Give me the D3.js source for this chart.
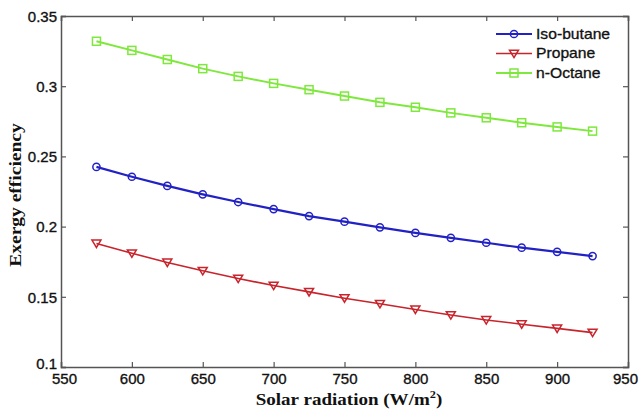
<!DOCTYPE html>
<html>
<head>
<meta charset="utf-8">
<script src="https://cdn.jsdelivr.net/npm/d3@7"></script>
<style>
  body { margin: 0; background: #fff; }
  .tick text { font-family: "Liberation Sans", Arial, sans-serif; font-size: 15px; fill: #111; stroke: #111; stroke-width: 0.35px; }
</style>
</head>
<body>
<div id="chart"></div>
<script>
// data
let radiation = [575, 600, 625, 650, 675, 700, 725, 750, 775, 800, 825, 850, 875, 900, 925];
let isoButane = [0.2425, 0.2355, 0.229, 0.223, 0.2175, 0.2125, 0.2075, 0.2035, 0.1995, 0.1955, 0.192, 0.1885, 0.185, 0.182, 0.179];
let propane = [0.188, 0.181, 0.1745, 0.1685, 0.163, 0.158, 0.1535, 0.149, 0.145, 0.141, 0.137, 0.1335, 0.1305, 0.1275, 0.1245];
let nOctane = [0.332, 0.3255, 0.319, 0.3125, 0.307, 0.302, 0.2975, 0.293, 0.2885, 0.285, 0.281, 0.2775, 0.274, 0.271, 0.268];
let xTicks = [550, 600, 650, 700, 750, 800, 850, 900, 950];
let yTicks = [0.1, 0.15, 0.2, 0.25, 0.3, 0.35];
let seriesNames = ["Iso-butane", "Propane", "n-Octane"];

let series = [
  { name: seriesNames[0], values: isoButane, color: "#2222c4", marker: "circle", lw: 2.2 },
  { name: seriesNames[1], values: propane, color: "#c8242c", marker: "triangle", lw: 1.6 },
  { name: seriesNames[2], values: nOctane, color: "#7ee83c", marker: "square", lw: 2 }
];

let width = 639, height = 415;
let margin = { left: 61, right: 11, top: 16, bottom: 48 };

let svg = d3.select("#chart").append("svg")
  .attr("width", width)
  .attr("height", height);

let x = d3.scaleLinear().domain([550, 950]).range([margin.left, width - margin.right]);
let y = d3.scaleLinear().domain([0.1, 0.35]).range([height - margin.bottom, margin.top]);

let axisColor = "#555";

// axes with inward ticks, MATLAB style box
let xAxis = svg.append("g")
  .attr("transform", "translate(0," + y(0.1) + ")")
  .call(d3.axisBottom(x).tickValues(xTicks).tickSize(-5).tickPadding(6).tickFormat(d3.format("d")));
let xAxisTop = svg.append("g")
  .attr("transform", "translate(0," + y(0.35) + ")")
  .call(d3.axisTop(x).tickValues(xTicks).tickSize(-5).tickFormat(""));
let yAxis = svg.append("g")
  .attr("transform", "translate(" + x(550) + ",0)")
  .call(d3.axisLeft(y).tickValues(yTicks).tickSize(-5).tickPadding(4).tickFormat(d => String(+d.toFixed(2))));
let yAxisRight = svg.append("g")
  .attr("transform", "translate(" + x(950) + ",0)")
  .call(d3.axisRight(y).tickValues(yTicks).tickSize(-5).tickFormat(""));

[xAxis, xAxisTop, yAxis, yAxisRight].forEach(function(a) {
  a.select(".domain").attr("stroke", axisColor).attr("stroke-width", 1.5);
  a.selectAll(".tick line").attr("stroke", axisColor).attr("stroke-width", 1.2);
});
xAxis.selectAll(".tick text").attr("dy", "0.75em");
yAxis.selectAll(".tick text").attr("dy", "0.35em");

// shift end labels like in the figure (and keep 950 inside the page)
xAxis.selectAll(".tick text").filter(d => d == 550).attr("dx", 3);
xAxis.selectAll(".tick text").filter(d => d == 950).attr("dx", -3);
yAxis.selectAll(".tick text").filter(d => d == 0.1).attr("dy", "0.1em");

function drawMarker(g, type, cx, cy, color) {
  if (type == "circle") {
    g.append("circle").attr("cx", cx).attr("cy", cy).attr("r", 3.6)
      .attr("fill", "none").attr("stroke", color).attr("stroke-width", 1.5);
  } else if (type == "triangle") {
    let s = 4.5;
    g.append("path")
      .attr("d", "M" + (cx - s) + "," + (cy - s * 0.75) + "L" + (cx + s) + "," + (cy - s * 0.75) + "L" + cx + "," + (cy + s * 0.9) + "Z")
      .attr("fill", "none").attr("stroke", color).attr("stroke-width", 1.5);
  } else {
    g.append("rect").attr("x", cx - 4).attr("y", cy - 4).attr("width", 8).attr("height", 8)
      .attr("fill", "none").attr("stroke", color).attr("stroke-width", 1.5);
  }
}

let line = d3.line()
  .x(function(d, i) { return x(radiation[i]); })
  .y(function(d) { return y(d); });

series.forEach(function(s) {
  let g = svg.append("g");
  g.append("path")
    .datum(s.values)
    .attr("d", line)
    .attr("fill", "none")
    .attr("stroke", s.color)
    .attr("stroke-width", s.lw);
  s.values.forEach(function(v, i) {
    drawMarker(g, s.marker, x(radiation[i]), y(v), s.color);
  });
});

// legend
let legend = svg.append("g");
series.forEach(function(s, i) {
  let ly = 34 + i * 19.5;
  legend.append("line")
    .attr("x1", 496).attr("x2", 532).attr("y1", ly).attr("y2", ly)
    .attr("stroke", s.color).attr("stroke-width", s.lw);
  drawMarker(legend, s.marker, 514, ly, s.color);
  legend.append("text")
    .attr("transform", "translate(536," + ly + ") scale(1.12,1)")
    .attr("dy", "0.35em")
    .attr("font-family", "Liberation Sans, Arial, sans-serif")
    .attr("font-size", 14)
    .attr("fill", "#111")
    .attr("stroke", "#111")
    .attr("stroke-width", 0.3)
    .text(s.name);
});

// axis titles
svg.append("text")
  .attr("transform", "translate(349,405) scale(1.12,1)")
  .attr("text-anchor", "middle")
  .attr("font-family", "Liberation Serif, Times New Roman, serif")
  .attr("font-weight", "bold")
  .attr("font-size", 17)
  .attr("fill", "#111")
  .html("Solar radiation (W/m<tspan dy='-7' font-size='11'>2</tspan><tspan dy='7'>)</tspan>");

svg.append("text")
  .attr("transform", "translate(21,195) rotate(-90) scale(1.22,1)")
  .attr("text-anchor", "middle")
  .attr("font-family", "Liberation Serif, Times New Roman, serif")
  .attr("font-weight", "bold")
  .attr("font-size", 16)
  .attr("fill", "#111")
  .text("Exergy efficiency");
</script>
</body>
</html>
